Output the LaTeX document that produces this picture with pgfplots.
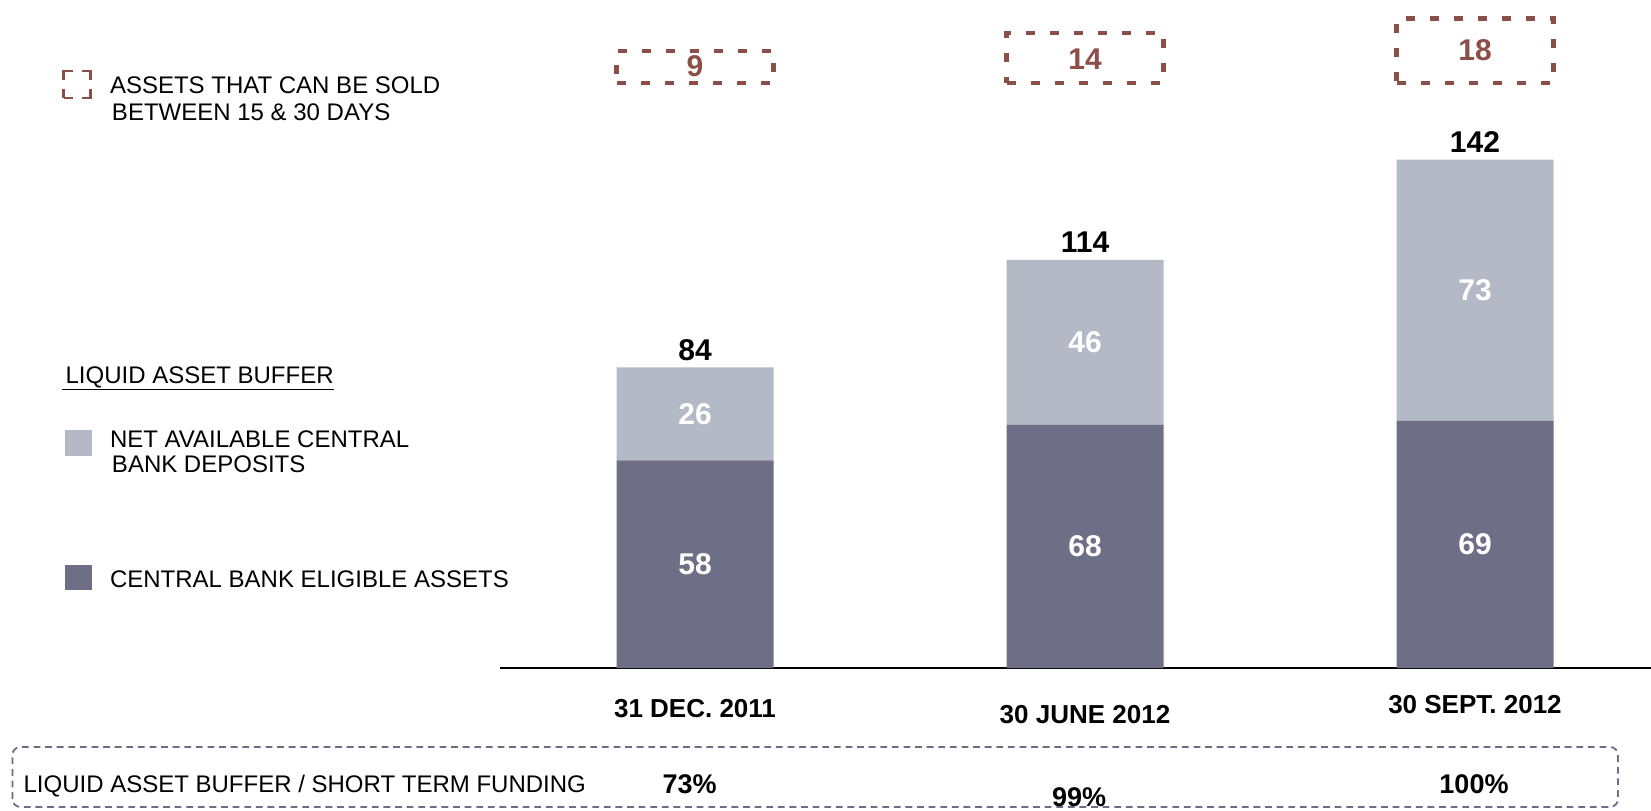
\documentclass[border=0pt]{standalone}
\usepackage{pgfplots}
\pgfplotsset{compat=1.18}
\usepackage{fontspec}
\setmainfont{Liberation Sans}
\definecolor{lightbar}{HTML}{B3B9C5}
\definecolor{darkbar}{HTML}{6E6E86}
\definecolor{brownbox}{HTML}{8B4F47}
\definecolor{framec}{HTML}{6E6C88}

\pgfplotsset{
  base/.style={
    scale only axis, width=575.5pt, height=334pt,
    at={(250pt,71pt)}, anchor=south west,
    xmin=-0.5, xmax=2.4513, ymin=0, ymax=186.6,
    enlargelimits=false, clip=false,
  },
}

\pgfplotstableread{
x y v
0 84 84
1 114 114
2 142 142
}\totals
\pgfplotstableread{
x y v
0 29 58
0 71 26
1 34 68
1 91 46
2 34.5 69
2 105.5 73
}\segs
\pgfplotstableread{
x y v
0 168.2 9
1 170 14
2 172.6 18
}\boxlabels

\begin{document}
\begin{tikzpicture}
\useasboundingbox (0,0) rectangle (825.5pt,405pt);

\begin{axis}[base, ybar stacked, bar width=78.5pt,
  axis x line*=bottom, axis y line=none,
  x axis line style={line width=0.9pt, black},
  xtick={0,1,2}, major tick length=0pt, ytick=\empty,
  xticklabels={31 DEC. 2011, \raisebox{-3pt}{30 JUNE 2012}, \raisebox{1.6pt}{30 SEPT. 2012}},
  xticklabel style={font=\fontsize{13}{15}\selectfont\bfseries, anchor=base, yshift=-24.5pt},
]
\addplot[fill=darkbar, draw=none] coordinates {(0,58) (1,68) (2,69)};
\addplot[fill=lightbar, draw=none] coordinates {(0,26) (1,46) (2,73)};
\end{axis}

\begin{axis}[base, ybar stacked, bar width=78.5pt, hide axis]
\addplot[draw=none, fill=none] coordinates {(0,163.4) (1,163.4) (2,163.4)};
\addplot[draw=brownbox, fill=none, line width=2.15pt, dash pattern=on 4.5pt off 7.5pt] coordinates {(0,9) (1,14) (2,18)};
\end{axis}

\begin{axis}[base, hide axis]
\addplot[draw=none, nodes near coords, point meta=explicit symbolic,
  every node near coord/.style={font=\fontsize{15}{17}\selectfont\bfseries, text=black, anchor=base, yshift=3.6pt}]
  table[x=x, y=y, meta=v] {\totals};
\addplot[draw=none, nodes near coords, point meta=explicit symbolic,
  every node near coord/.style={font=\fontsize{15}{17}\selectfont\bfseries, text=white, anchor=center}]
  table[x=x, y=y, meta=v] {\segs};
\addplot[draw=none, nodes near coords, point meta=explicit symbolic,
  every node near coord/.style={font=\fontsize{15}{17}\selectfont\bfseries, text=brownbox, anchor=center}]
  table[x=x, y=y, meta=v] {\boxlabels};
\end{axis}

% legend
\draw[brownbox, line width=1.2pt, dash pattern=on 9pt off 4.5pt, dash phase=4.5pt] (31.8pt,356pt) rectangle (45.3pt,369.5pt);
\begin{scope}[every node/.style={inner sep=0pt, anchor=base west, font=\fontsize{12}{14}\selectfont}]
\node at (54.8pt,358.1pt) {ASSETS THAT CAN BE SOLD};
\node at (55.8pt,344.9pt) {BETWEEN 15 \& 30 DAYS};
\node at (32.6pt,213.3pt) {LIQUID ASSET BUFFER};
\node at (54.8pt,181.2pt) {NET AVAILABLE CENTRAL};
\node at (55.8pt,168.5pt) {BANK DEPOSITS};
\node at (54.8pt,111.2pt) {CENTRAL BANK ELIGIBLE ASSETS};
\node at (11.6pt,9pt) {LIQUID ASSET BUFFER / SHORT TERM FUNDING};
\end{scope}
\draw[line width=0.8pt] (31pt,210.2pt) -- (167pt,210.2pt);
\fill[lightbar] (32.6pt,177.05pt) rectangle (45.8pt,190.2pt);
\fill[darkbar] (32.6pt,110.2pt) rectangle (45.8pt,122.3pt);

% bottom frame
\draw[framec, line width=0.9pt, dash pattern=on 3.4pt off 2.4pt, rounded corners=4pt] (6.2pt,1.5pt) rectangle (809pt,31.5pt);
\begin{scope}[every node/.style={inner sep=0pt, anchor=center, font=\fontsize{13.5}{15}\selectfont\bfseries}]
\node at (344.8pt,12.8pt) {73\%};
\node at (539.6pt,6.5pt) {99\%};
\node at (737pt,12.8pt) {100\%};
\end{scope}
\end{tikzpicture}
\end{document}
